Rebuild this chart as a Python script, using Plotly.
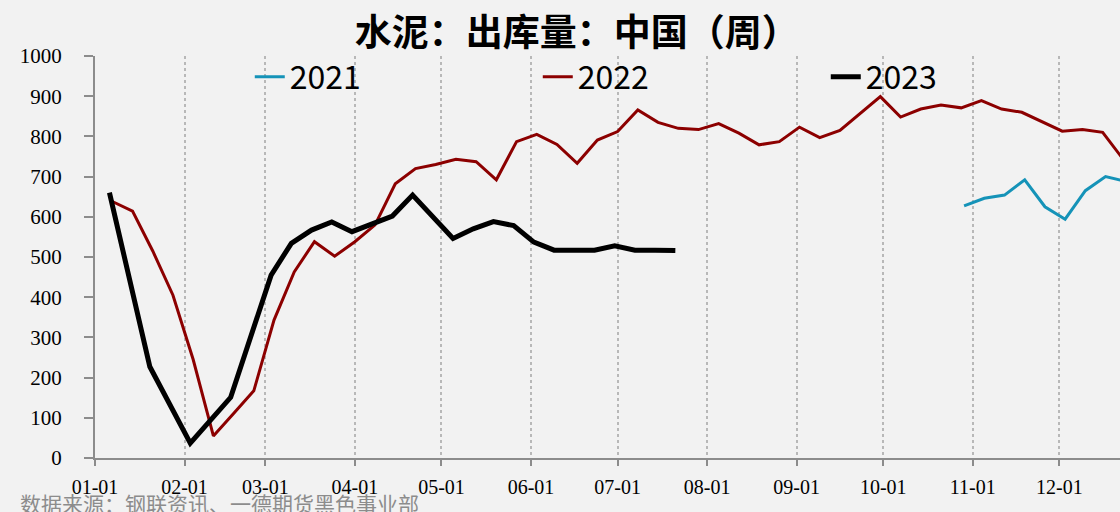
import plotly.graph_objects as go

# weekly values, month-day of each year's reporting date
d2021 = ['10-29', '11-05', '11-12', '11-19', '11-26', '12-03', '12-10', '12-17', '12-24']
v2021 = [627, 646, 654, 692, 625, 594, 665, 700, 688]

d2022 = ['01-07', '01-14', '01-21', '01-28', '02-04', '02-11', '02-18', '02-25',
         '03-04', '03-11', '03-18', '03-25', '04-01', '04-08', '04-15', '04-22', '04-29',
         '05-06', '05-13', '05-20', '05-27', '06-03', '06-10', '06-17', '06-24',
         '07-01', '07-08', '07-15', '07-22', '07-29', '08-05', '08-12', '08-19', '08-26',
         '09-02', '09-09', '09-16', '09-23', '09-30', '10-07', '10-14', '10-21', '10-28',
         '11-04', '11-11', '11-18', '11-25', '12-02', '12-09', '12-16', '12-23']
v2022 = [638, 614, 515, 405, 245, 55, 111, 167,
         343, 463, 538, 502, 538, 580, 682, 720, 730,
         743, 737, 692, 787, 805, 780, 733, 791,
         812, 866, 835, 820, 817, 832, 808, 779, 787,
         823, 797, 815, 857, 899, 848, 868, 878, 871,
         889, 868, 860, 837, 813, 817, 810, 744]

d2023 = ['01-06', '01-20', '02-03', '02-17', '03-03', '03-10', '03-17', '03-24', '03-31',
         '04-07', '04-14', '04-21', '04-28', '05-05', '05-12', '05-19', '05-26',
         '06-02', '06-09', '06-16', '06-23', '06-30', '07-07', '07-14', '07-21']
v2023 = [660, 227, 37, 151, 455, 534, 567, 587, 563,
         584, 602, 654, 600, 546, 570, 588, 578,
         537, 517, 517, 517, 528, 517, 517, 516]


def on_axis(md):
    # put every year on one common calendar year
    return '2021-' + md


fig = go.Figure()
fig.add_trace(go.Scatter(x=[on_axis(d) for d in d2021], y=v2021, mode='lines', name='2021',
                         line=dict(color='#1593b8', width=3)))
fig.add_trace(go.Scatter(x=[on_axis(d) for d in d2022], y=v2022, mode='lines', name='2022',
                         line=dict(color='#8c0000', width=3)))
fig.add_trace(go.Scatter(x=[on_axis(d) for d in d2023], y=v2023, mode='lines', name='2023',
                         line=dict(color='#000000', width=5)))

serif = 'Liberation Serif, DejaVu Serif, serif'
axis_grey = '#8c8c8c'
fig.update_layout(
    width=1120, height=512,
    margin=dict(l=95, r=0, t=56, b=54),
    paper_bgcolor='#f2f2f2', plot_bgcolor='#f2f2f2',
    title=dict(text='<b>水泥：出库量：中国（周）</b>', x=0.515, xref='container', xanchor='center',
               y=1 - 33 / 512, yanchor='middle',
               font=dict(family='Noto Sans CJK SC', size=37, color='#000000')),
    legend=dict(orientation='h', x=0.151, xanchor='left', y=1 - 21 / 402, yanchor='middle',
                bgcolor='rgba(0,0,0,0)', entrywidth=243, entrywidthmode='pixels',
                font=dict(family='Noto Sans CJK SC', size=32, color='#000000')),
    showlegend=True,
)
fig.update_xaxes(type='date', range=['2021-01-01', '2021-12-22'],
                 tick0='2021-01-01', dtick='M1', tickformat='%m-%d',
                 showline=True, linecolor=axis_grey, linewidth=2,
                 ticks='outside', ticklen=6, tickwidth=2, tickcolor=axis_grey,
                 showgrid=True, gridcolor='#b8b8b8', griddash='dot', gridwidth=1.5,
                 zeroline=False, ticklabelstandoff=4,
                 tickfont=dict(family=serif, size=20, color='#000000'))
fig.update_yaxes(range=[0, 1000], dtick=100,
                 showline=True, linecolor=axis_grey, linewidth=2,
                 ticks='outside', ticklen=9, tickwidth=2, tickcolor=axis_grey,
                 showgrid=False, zeroline=False, ticklabelstandoff=18,
                 tickfont=dict(family=serif, size=21, color='#000000'))

fig.add_annotation(text='数据来源：钢联资讯、一德期货黑色事业部', xref='paper', yref='paper',
                   x=-77 / 1025, y=-45 / 402, xanchor='left', yanchor='middle', showarrow=False,
                   font=dict(family='Noto Sans CJK SC', size=21, color='#8c8c8c'))

fig.write_html('out.html', config={'displayModeBar': False},
               post_script="document.body.style.margin='0';")
